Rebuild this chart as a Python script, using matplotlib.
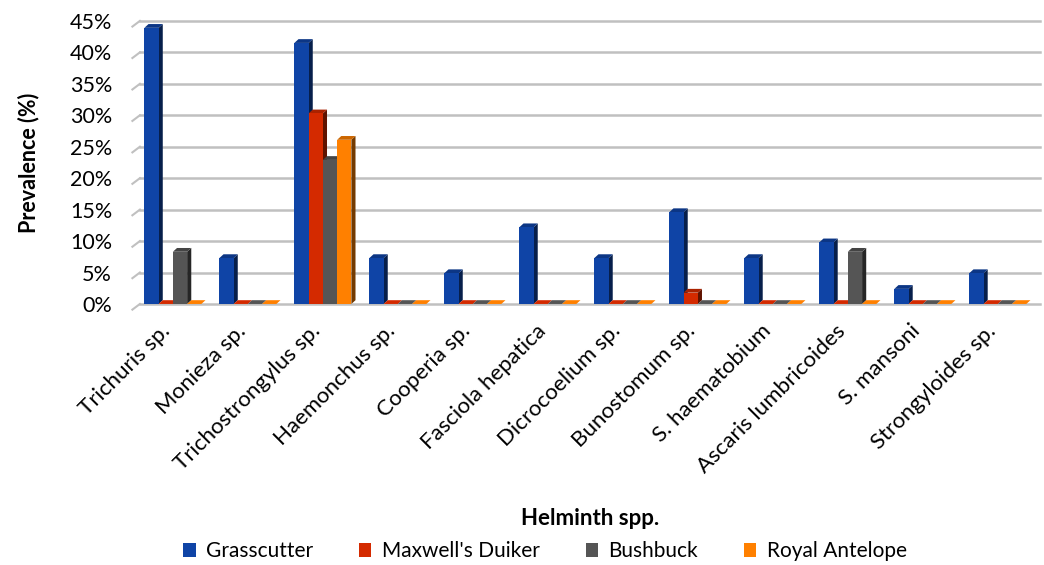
import matplotlib
matplotlib.use("Agg")
import matplotlib.pyplot as plt
from matplotlib.patches import Polygon, Patch
import matplotlib.colors as mcolors
import matplotlib.transforms as mtransforms

plt.rcParams["font.family"] = ["Lato", "DejaVu Sans"]

categories = ["Trichuris sp.", "Monieza sp.", "Trichostrongylus sp.", "Haemonchus sp.",
              "Cooperia sp.", "Fasciola hepatica", "Dicrocoelium sp.", "Bunostomum sp.",
              "S. haematobium", "Ascaris lumbricoides", "S. mansoni", "Strongyloides sp."]
series = ["Grasscutter", "Maxwell's Duiker", "Bushbuck", "Royal Antelope"]
grasscutter = [43.9, 7.3, 41.5, 7.3, 4.9, 12.2, 7.3, 14.6, 7.3, 9.8, 2.4, 4.9]
duiker = [0, 0, 30.3, 0, 0, 0, 0, 1.8, 0, 0, 0, 0]
bushbuck = [8.3, 0, 22.9, 0, 0, 0, 0, 0, 0, 8.3, 0, 0]
royal = [0, 0, 26.1, 0, 0, 0, 0, 0, 0, 0, 0, 0]
values = [grasscutter, duiker, bushbuck, royal]
colors = ["#0f44a6", "#d42a00", "#555555", "#ff8000"]

fig = plt.figure(figsize=(10.44, 5.65), dpi=100)
ax = fig.add_axes([0.134, 0.462, 0.862, 0.501])
ax.set_xlim(-0.5, len(categories) - 0.5)
ax.set_ylim(0, 45)

# faux 3D depth offsets (in data units)
dx, dy = 0.055, 0.6
bw = 0.19

# gridlines with short slanted side-wall stubs
for yv in range(0, 50, 5):
    ax.plot([-0.5, len(categories) - 0.5], [yv, yv], color="#c0c0c0", lw=1.8, zorder=0, clip_on=False)
    ax.plot([-0.6, -0.5], [yv - 0.9, yv], color="#c0c0c0", lw=1.5, zorder=0, clip_on=False)

def darker(c, f):
    r, g, b = mcolors.to_rgb(c)
    return (r * f, g * f, b * f)

for s, (vals, col) in enumerate(zip(values, colors)):
    for i, v in enumerate(vals):
        x0 = i + (s - 1.5) * bw - bw / 2 - 0.06
        x1 = x0 + bw
        # side face
        ax.add_patch(Polygon([(x1, 0), (x1 + dx, dy), (x1 + dx, v + dy), (x1, v)],
                             closed=True, facecolor=darker(col, 0.45), edgecolor="none", zorder=2 + s))
        # top face
        ax.add_patch(Polygon([(x0, v), (x0 + dx, v + dy), (x1 + dx, v + dy), (x1, v)],
                             closed=True, facecolor=darker(col, 0.8) if v > 0 else col,
                             edgecolor="none", zorder=2 + s))
        # front face
        ax.add_patch(Polygon([(x0, 0), (x0, v), (x1, v), (x1, 0)],
                             closed=True, facecolor=col, edgecolor="none", zorder=2 + s))

ax.set_xticks(range(len(categories)))
ax.set_xticklabels(categories, rotation=45, ha="right", rotation_mode="anchor", fontsize=16)
ax.set_yticks(range(0, 50, 5))
ax.set_yticklabels([f"{v}%" for v in range(0, 50, 5)], fontsize=15.5)
ax.tick_params(length=0)
ax.tick_params(axis="y", pad=20)
ax.tick_params(axis="x", pad=12)
shift = mtransforms.ScaledTranslation(-0.17, 0, fig.dpi_scale_trans)
for lab in ax.get_xticklabels():
    lab.set_transform(lab.get_transform() + shift)
for sp in ax.spines.values():
    sp.set_visible(False)

ax.set_ylabel("Prevalence (%)", fontsize=15.5, fontweight="bold", labelpad=22)
fig.text(0.565, 0.07, "Helminth spp.", ha="center", fontsize=16, fontweight="bold")

handles = [Patch(facecolor=c, label=n) for n, c in zip(series, colors)]
fig.legend(handles=handles, loc="center", bbox_to_anchor=(0.522, 0.024), ncol=4, frameon=False,
           fontsize=15, handlelength=0.6, handleheight=0.6, columnspacing=2.2, handletextpad=0.5)

plt.savefig("out.png", dpi=100)
